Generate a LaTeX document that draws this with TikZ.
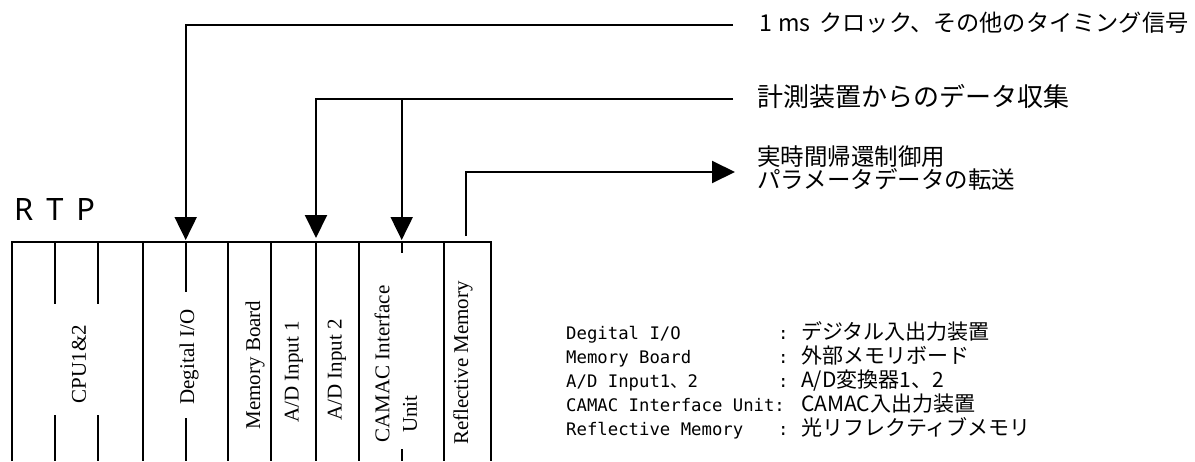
\documentclass[tikz,border=0pt]{standalone}
\usepackage{fontspec}
\setmainfont{Liberation Serif}
\newfontfamily\jpfont{Noto Sans CJK JP}
\newfontfamily\legmono{DejaVu Sans Mono}
\newfontfamily\rtpfont{Noto Sans}
\usetikzlibrary{arrows.meta}
\begin{document}
\begin{tikzpicture}[x=1pt,y=-1pt,
  wire/.style={line width=2pt},
  sig/.style={line width=2pt,-{Triangle[width=22pt,length=23pt]}},
  slot/.style={font=\fontsize{21}{25}\selectfont, rotate=90, inner sep=0pt},
  lbl/.style={anchor=west, inner sep=0pt, align=left},
  legname/.style={anchor=base west, inner sep=0pt, font=\legmono\fontsize{17.3}{20}\selectfont},
  legjp/.style={anchor=base west, inner sep=0pt, font=\jpfont\fontsize{21}{24}\selectfont}
]
\useasboundingbox (0,0) rectangle (1195,461);

% rack outline
\draw[wire] (11.7,461) -- (11.7,242) -- (490.7,242) -- (490.7,461);
% slot separators
\draw[wire] (55,242) -- (55,304) (55,415) -- (55,461);
\draw[wire] (97.7,242) -- (97.7,304) (97.7,415) -- (97.7,461);
\draw[wire] (143.3,242) -- (143.3,461);
\draw[wire] (185.7,242) -- (185.7,292) (185.7,418) -- (185.7,461);
\draw[wire] (228.3,242) -- (228.3,461);
\draw[wire] (271,242) -- (271,461);
\draw[wire] (316,242) -- (316,461);
\draw[wire] (359,242) -- (359,461);
\draw[wire] (401.7,242) -- (401.7,253) (401.7,449) -- (401.7,461);
\draw[wire] (444.3,242) -- (444.3,461);

% slot labels
\node[slot] (cpu) at (79,364) {CPU1\&2};
\node[slot] (dio) at (189,357) {Degital I/O};
\node[slot] (mem) at (255,365) {Memory Board};
\node[slot] (ad1) at (294,372) {A/D Input 1};
\node[slot] (ad2) at (337,370) {A/D Input 2};
\node[slot] (cam) at (382,364) {CAMAC Interface};
\node[slot] (unit) at (410,414) {Unit};
\node[slot] (rm) at (463,363) {Reflective Memory};

\node[anchor=base west, inner sep=0pt, font=\rtpfont\fontsize{30.8}{36}\selectfont] (rtp) at (14,220) {R\hspace{5pt} T\hspace{5pt} P};

% signal labels
\node[lbl, font=\jpfont\fontsize{23.2}{28}\selectfont] (l1) at (759,23) {1\hspace{6pt}ms\hspace{9pt}クロック、その他のタイミング信号};
\node[lbl, font=\jpfont\fontsize{26}{30}\selectfont] (l2) at (757,97) {計測装置からのデータ収集};
\node[lbl, font=\jpfont\fontsize{23.5}{21}\selectfont] (l3) at (757,168) {実時間帰還制御用\\パラメータデータの転送};

% connector points
\coordinate (c1) at (733,25);
\coordinate (c2) at (733,99);
\coordinate (j2) at (401.7,99);
\coordinate (c3) at (735,172);
\coordinate (dioT) at (185.7,240);
\coordinate (ad1T) at (316,238);
\coordinate (camT) at (401.7,240);
\coordinate (rmB) at (465.7,236);

\draw[sig] (c1) -| (dioT);
\draw[sig] (c2) -| (ad1T);
\draw[sig] (j2) -- (camT);
\draw[sig] (rmB) |- (c3);

% legend
\node[legname] (n1) at (566,339.5) {Degital I/O};
\node[legname] (n2) at (566,363.5) {Memory Board};
\node[legname] (n3) at (566,387.5) {A/D Input1{\jpfont 、}2};
\node[legname] (n4) at (566,411.5) {CAMAC Interface Unit:};
\node[legname] (n5) at (566,435.5) {Reflective Memory};
\node[legname] (k1) at (778,339.5) {:};
\node[legname] (k2) at (778,363.5) {:};
\node[legname] (k3) at (778,387.5) {:};
\node[legname] (k5) at (778,435.5) {:};
\node[legjp] (d1) at (801,339.5) {デジタル入出力装置};
\node[legjp] (d2) at (801,363.5) {外部メモリボード};
\node[legjp] (d3) at (801,387.5) {A/D変換器1、2};
\node[legjp] (d4) at (801,411.5) {CAMAC入出力装置};
\node[legjp] (d5) at (801,435.5) {光リフレクティブメモリ};
\end{tikzpicture}
\end{document}
